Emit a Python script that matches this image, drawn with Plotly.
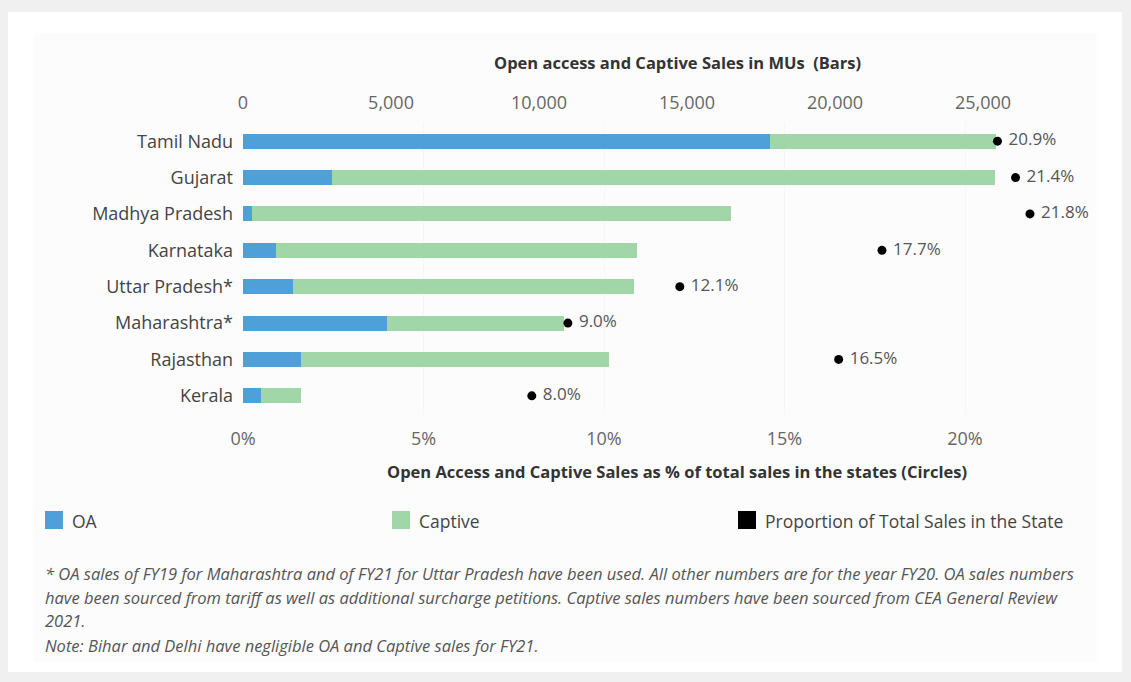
import plotly.graph_objects as go

W, H = 1131, 682

states = ["Tamil Nadu", "Gujarat", "Madhya Pradesh", "Karnataka", "Uttar Pradesh*",
          "Maharashtra*", "Rajasthan", "Kerala"]
oa_mu = [17800, 3000, 300, 1100, 1700, 4850, 1950, 600]
captive_mu = [7650, 22400, 16200, 12200, 11500, 6000, 10400, 1350]
share_pct = [20.9, 21.4, 21.8, 17.7, 12.1, 9.0, 16.5, 8.0]
share_labels = ["20.9%", "21.4%", "21.8%", "17.7%", "12.1%", "9.0%", "16.5%", "8.0%"]

mu_ticks = [0, 5000, 10000, 15000, 20000, 25000]
mu_ticktext = ["0", "5,000", "10,000", "15,000", "20,000", "25,000"]
pct_ticks = [0, 5, 10, 15, 20]
pct_ticktext = ["0%", "5%", "10%", "15%", "20%"]

OA_COLOR = "#4f9fd9"
CAP_COLOR = "#a0d6a8"
TXT = "#444444"
FONT = "Open Sans"

# plot area in pixels
PL, PR, PT, PB = 243, 1100, 123, 414
MU_PER_PX = 1 / 0.0296
PCT_PER_PX = 1 / 36.1


def px(x):
    return x / W


def py(y):
    return 1 - y / H


fig = go.Figure()
fig.add_trace(go.Bar(y=states, x=oa_mu, orientation="h", marker=dict(color=OA_COLOR, line=dict(width=0)),
                     name="OA", xaxis="x", yaxis="y", showlegend=False))
fig.add_trace(go.Bar(y=states, x=captive_mu, orientation="h", marker=dict(color=CAP_COLOR, line=dict(width=0)),
                     name="Captive", xaxis="x", yaxis="y", showlegend=False))
fig.add_trace(go.Scatter(y=states, x=share_pct, mode="markers+text", xaxis="x2", yaxis="y",
                         marker=dict(color="black", size=9),
                         text=["\u00a0" + s for s in share_labels], textposition="middle right",
                         textfont=dict(family=FONT, size=17, color="#555555"),
                         name="Proportion of Total Sales in the State", showlegend=False, cliponaxis=False))

shapes = [
    dict(type="rect", xref="paper", yref="paper", x0=px(8), x1=px(1122), y0=py(672), y1=py(12),
         fillcolor="white", line=dict(width=0), layer="below"),
    dict(type="rect", xref="paper", yref="paper", x0=px(33), x1=px(1097), y0=py(662), y1=py(33),
         fillcolor="#fcfcfc", line=dict(width=0), layer="below"),
]

annotations = [
    dict(text="<b>Open access and Captive Sales in MUs  (Bars)</b>", x=px(677), y=py(62), xref="paper", yref="paper",
         showarrow=False, font=dict(family=FONT, size=16.5, color="#333333"), xanchor="center", yanchor="middle"),
    dict(text="<b>Open Access and Captive Sales as % of total sales in the states (Circles)</b>", x=px(677), y=py(471),
         xref="paper", yref="paper", showarrow=False, font=dict(family=FONT, size=16.5, color="#333333"),
         xanchor="center", yanchor="middle"),
]

# legend (custom)
legend_items = [(45, "OA", OA_COLOR), (392, "Captive", CAP_COLOR), (738, "Proportion of Total Sales in the State", "black")]
for x0, label, col in legend_items:
    shapes.append(dict(type="rect", xref="paper", yref="paper", x0=px(x0), x1=px(x0 + 18), y0=py(529), y1=py(511),
                       fillcolor=col, line=dict(width=0)))
    annotations.append(dict(text=label, x=px(x0 + 25), y=py(521), xref="paper", yref="paper", showarrow=False,
                            xanchor="left", yanchor="middle", font=dict(family=FONT, size=17.5, color=TXT)))

foot = [
    (573, "* OA sales of FY19 for Maharashtra and of FY21 for Uttar Pradesh have been used. All other numbers are for the year FY20. OA sales numbers"),
    (597, "have been sourced from tariff as well as additional surcharge petitions. Captive sales numbers have been sourced from CEA General Review"),
    (620, "2021."),
    (645, "Note: Bihar and Delhi have negligible OA and Captive sales for FY21."),
]
for yy, t in foot:
    annotations.append(dict(text="<i>" + t + "</i>", x=px(43), y=py(yy), xref="paper", yref="paper", showarrow=False,
                            xanchor="left", yanchor="middle",
                            font=dict(family=FONT, size=16.5, color="#555555")))

fig.update_layout(
    width=W, height=H, margin=dict(l=0, r=0, t=0, b=0, autoexpand=False),
    paper_bgcolor="#f0f0f0", plot_bgcolor="rgba(0,0,0,0)",
    barmode="stack", bargap=0.59,
    xaxis=dict(domain=[px(PL), px(PR)], side="top", range=[0, (PR - PL) * MU_PER_PX], anchor="y",
               tickvals=mu_ticks, ticktext=mu_ticktext, showgrid=False, zeroline=False, ticks="",
               tickfont=dict(family=FONT, size=18, color="#666666"), ticklabelstandoff=9, showline=False,
               automargin=False),
    xaxis2=dict(domain=[px(PL), px(PR)], side="bottom", overlaying="x", range=[0, (PR - PL) * PCT_PER_PX],
                anchor="y", tickvals=pct_ticks, ticktext=pct_ticktext, showgrid=True, gridcolor="#f6f6f6",
                zeroline=False, ticks="", tickfont=dict(family=FONT, size=18, color="#666666"),
                ticklabelstandoff=12, showline=False, automargin=False),
    yaxis=dict(domain=[py(PB), py(PT)], autorange=False, range=[7.5, -0.5], type="category",
               categoryorder="array", categoryarray=states, showgrid=False, zeroline=False, ticks="",
               tickfont=dict(family=FONT, size=18, color="#444444"), ticklabelstandoff=9, automargin=False),
    shapes=shapes, annotations=annotations,
)

fig.write_html("out.html")
